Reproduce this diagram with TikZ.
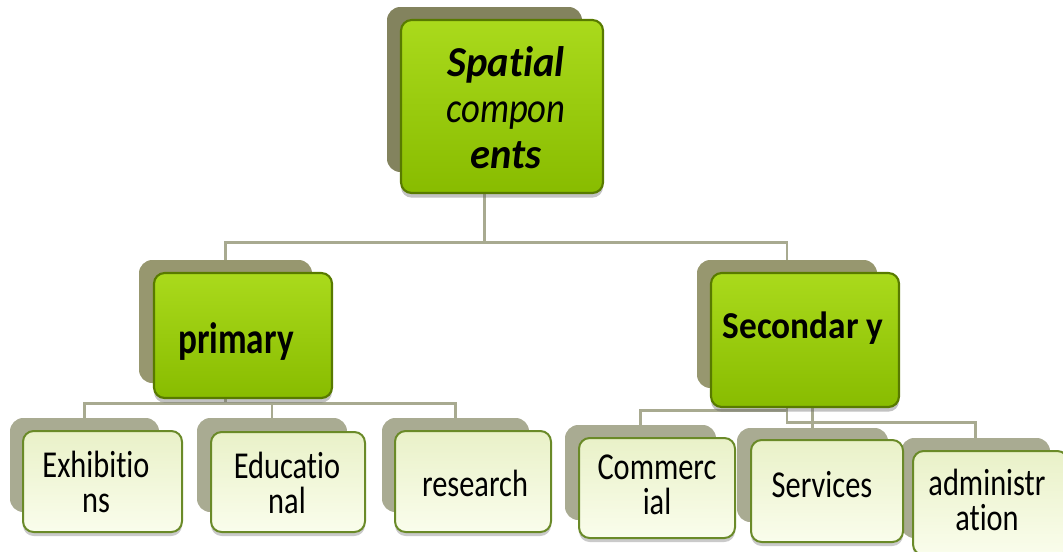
\documentclass[tikz,border=0pt]{standalone}
\usepackage{fontspec}
\usetikzlibrary{shadows}
\defaultfontfeatures{Ligatures={NoCommon,NoContextual}}
\newfontfamily\rootfont[FakeStretch=0.95]{Carlito}
\newfontfamily\rootcompfont[FakeStretch=0.86]{Carlito}
\newfontfamily\primfont[FakeStretch=0.8]{Carlito}
\newfontfamily\secfont[FakeStretch=0.93]{Carlito}
\newfontfamily\childfont[FakeStretch=0.8]{Carlito}
\newcommand\nolig{\kern0pt }
\definecolor{conncol}{HTML}{A8AA90}
\definecolor{rootsh}{HTML}{83835E}
\definecolor{parsh}{HTML}{97976F}
\definecolor{chsh}{HTML}{A9AB92}
\definecolor{gtop}{HTML}{AADA1C}
\definecolor{gmid}{HTML}{92C600}
\definecolor{gbot}{HTML}{88BC00}
\definecolor{gborder}{HTML}{587A00}
\definecolor{ctop}{HTML}{E9F1C8}
\definecolor{cmid}{HTML}{F1F7D8}
\definecolor{cbot}{HTML}{FAFDEC}
\definecolor{cborder}{HTML}{6A8A28}
\tikzset{
  conn/.style={draw=conncol, line width=2.2pt},
  backbox/.style={rounded corners=10pt, inner sep=0pt, draw=none},
  greenbox/.style={rounded corners=8pt, inner sep=0pt, draw=gborder, line width=1.6pt,
    top color=gtop, middle color=gmid, bottom color=gbot,
    drop shadow={shadow xshift=0pt, shadow yshift=-3.5pt, opacity=0.4, fill=black!60}},
  childbox/.style={rounded corners=8pt, inner sep=0pt, draw=cborder, line width=1.5pt,
    top color=ctop, middle color=cmid, bottom color=cbot,
    drop shadow={shadow xshift=0pt, shadow yshift=-3pt, opacity=0.35, fill=black!60}},
  ctext/.style={align=center, inner sep=0pt, font=\childfont\fontsize{28.5pt}{26.25pt}\selectfont}
}
\begin{document}
\begin{tikzpicture}[x=0.75pt, y=-0.75pt]
\useasboundingbox (0,0) rectangle (1063,551);
\clip (0,0) rectangle (1063,551);
% layout (back) boxes
\node[backbox, fill=rootsh, minimum width=146.25pt, minimum height=123.75pt] (rootS) at (484.5,89.5) {};
\node[backbox, fill=parsh, minimum width=129.75pt, minimum height=92.25pt] (primS) at (225.5,321.5) {};
\node[backbox, fill=parsh, minimum width=135pt, minimum height=96pt] (secS) at (787,324) {};
\node[backbox, fill=chsh, minimum width=111.75pt, minimum height=70.5pt] (exhS) at (84.5,465) {};
\node[backbox, fill=chsh, minimum width=112.5pt, minimum height=70.5pt] (eduS) at (272,465) {};
\node[backbox, fill=chsh, minimum width=110.25pt, minimum height=70.5pt] (resS) at (455.5,465) {};
\node[backbox, fill=chsh, minimum width=113.25pt, minimum height=71.25pt] (comS) at (640.5,472.5) {};
\node[backbox, fill=chsh, minimum width=113.25pt, minimum height=70.5pt] (serS) at (812.5,475) {};
\node[backbox, fill=chsh, minimum width=111.75pt, minimum height=75pt] (admS) at (975.5,488) {};
% connectors
\draw[conn] (rootS.south) -- ++(0,70) coordinate (j0);
\draw[conn] (j0) -| (primS.north);
\draw[conn] (j0) -| (secS.north);
\draw[conn] (primS.south) -- ++(0,20) coordinate (j1);
\draw[conn] (j1) -| (exhS.north);
\draw[conn] (j1) -| (eduS.north);
\draw[conn] (j1) -| (resS.north);
\draw[conn] (secS.south) -- ++(0,22) -| (comS.north);
\draw[conn] (secS.south) -- ++(0,12) -| (serS.north);
\draw[conn] (secS.south) -- ++(0,34) -| (admS.north);
% front boxes
\node[greenbox, minimum width=151.5pt, minimum height=129.75pt] (root) at (502,106.5) {};
\node[greenbox, minimum width=133.5pt, minimum height=93.75pt] (prim) at (243,335.5) {};
\node[greenbox, minimum width=141pt, minimum height=100.5pt] (sec) at (805,340) {};
\node[childbox, minimum width=119.25pt, minimum height=75.75pt] (exh) at (102.5,481.5) {};
\node[childbox, minimum width=115.5pt, minimum height=75pt] (edu) at (288,482) {};
\node[childbox, minimum width=117pt, minimum height=75.75pt] (res) at (473,481.5) {};
\node[childbox, minimum width=117pt, minimum height=75pt] (com) at (657,488) {};
\node[childbox, minimum width=114pt, minimum height=76.5pt] (ser) at (827,491) {};
\node[childbox, minimum width=116.25pt, minimum height=78pt] (adm) at (990.5,503) {};
% texts
\node[align=center, inner sep=0pt, font=\rootfont\fontsize{32pt}{34.5pt}\selectfont] (rootT) at (506,107.5)
  {\bfseries\itshape Spat\nolig ial\\ {\rootcompfont\itshape compon}\\ \bfseries\itshape ents};
\node[inner sep=0pt, font=\primfont\bfseries\fontsize{33pt}{34pt}\selectfont] (primT) at (236,342) {primary};
\node[inner sep=0pt, font=\secfont\bfseries\fontsize{28.5pt}{30pt}\selectfont] (secT) at (803,328) {Secondar y};
\node[ctext] (exhT) at (96,481.5) {Exhibit\nolig io\\ns};
\node[ctext] (eduT) at (287,482.5) {Educat\nolig io\\nal};
\node[ctext] (resT) at (475,483) {research};
\node[ctext] (comT) at (657,484.5) {Commerc\\ial};
\node[ctext] (serT) at (822,485) {Services};
\node[ctext] (admT) at (987,499.5) {administr\\at\nolig ion};
\end{tikzpicture}
\end{document}
